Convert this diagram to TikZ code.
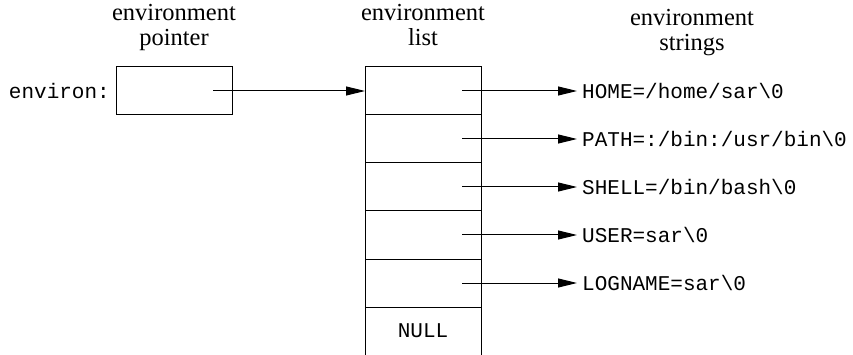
\documentclass[tikz,border=0pt]{standalone}
\usepackage{fontspec}
\setmainfont{Liberation Serif}
\setmonofont{Liberation Mono}
\usetikzlibrary{arrows.meta}
\begin{document}
\begin{tikzpicture}[x=1pt,y=-1pt,
  cell/.style={draw,line width=1pt,minimum width=116pt,minimum height=48pt,inner sep=0pt,outer sep=0pt,
    font=\fontsize{21}{25}\selectfont\ttfamily},
  hdr/.style={align=center,anchor=base,inner sep=0pt,font=\fontsize{24.5}{25}\selectfont},
  str/.style={anchor=west,inner sep=0pt,font=\fontsize{21}{25}\selectfont\ttfamily},
  ptr/.style={line width=1pt,-{Triangle[length=19pt,width=9pt]}}]
\useasboundingbox (0,0) rectangle (853,355);
% headers
\node[hdr] (h1) at (174,46) {environment\\pointer};
\node[hdr] (h2) at (423,46) {environment\\list};
\node[hdr] (h3) at (692,51) {environment\\strings};
% environ pointer
\node[str,anchor=east] (lab) at (110,91) {environ:};
\node[cell] (e) at (174,91) {};
% list cells
\node[cell] (c1) at (423,91) {};
\node[cell] (c2) at (423,139) {};
\node[cell] (c3) at (423,187) {};
\node[cell] (c4) at (423,235) {};
\node[cell] (c5) at (423,283) {};
\node[cell] (c6) at (423,331) {NULL};
% strings
\node[str] (s1) at (582,91) {HOME=/home/sar\textbackslash 0};
\node[str] (s2) at (582,139) {PATH=:/bin:/usr/bin\textbackslash 0};
\node[str] (s3) at (582,187) {SHELL=/bin/bash\textbackslash 0};
\node[str] (s4) at (582,235) {USER=sar\textbackslash 0};
\node[str] (s5) at (582,283) {LOGNAME=sar\textbackslash 0};
% arrows
\draw[ptr] ([xshift=-19pt]e.east) -- (c1.west);
\foreach \i in {1,...,5}{
  \draw[ptr] ([xshift=-19pt]c\i.east) -- ([xshift=-5pt]s\i.west);
}
\end{tikzpicture}
\end{document}
